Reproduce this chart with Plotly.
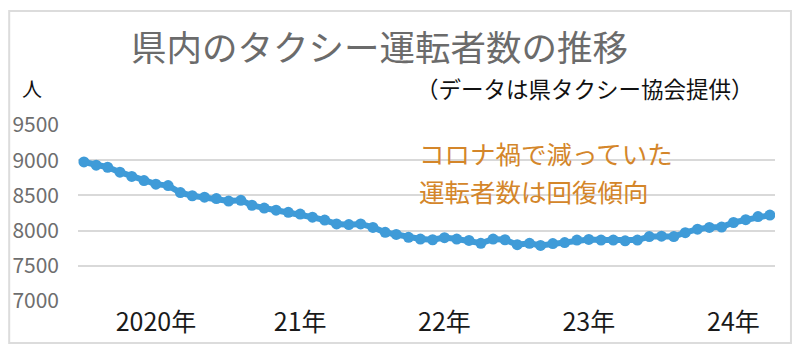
import plotly.graph_objects as go
import pandas as pd

# ---- data ----
months = pd.date_range("2020-01-01", "2024-10-01", freq="MS")
drivers = [8975, 8930, 8900, 8830, 8770, 8710, 8660, 8640, 8540, 8495,
           8475, 8455, 8420, 8430, 8360, 8320, 8290, 8260, 8235, 8190,
           8150, 8095, 8085, 8095, 8045, 7975, 7945, 7905, 7880, 7870,
           7900, 7880, 7860, 7820, 7880, 7870, 7800, 7820, 7790, 7815,
           7830, 7865, 7875, 7865, 7865, 7855, 7865, 7915, 7920, 7915,
           7970, 8020, 8045, 8050, 8115, 8155, 8200, 8220]
tick_dates = ["2020-07-01", "2021-07-01", "2022-07-01", "2023-07-01", "2024-07-01"]
tick_labels = ["2020年", "21年", "22年", "23年", "24年"]
y_ticks = [7000, 7500, 8000, 8500, 9000, 9500]

title_text = "県内のタクシー運転者数の推移"
source_text = "（データは県タクシー協会提供）"
unit_text = "人"
note_lines = ["コロナ禍で減っていた", "運転者数は回復傾向"]

# ---- layout geometry ----
W, H = 800, 350
L, R, T, B = 76, 25, 125, 49
PW, PH = W - L - R, H - T - B


def px(x):
    return (x - L) / PW


def py(y):
    return (H - B - y) / PH


CJK = "Noto Sans CJK JP, sans-serif"
NARROW = "Liberation Sans Narrow, Arial Narrow, Noto Sans CJK JP, sans-serif"

fig = go.Figure()
fig.add_trace(go.Scatter(
    x=months, y=drivers, mode="lines+markers",
    line=dict(color="#3f9bd8", width=6),
    marker=dict(color="#3f9bd8", size=11),
    hoverinfo="skip", showlegend=False,
))

fig.update_layout(
    width=W, height=H,
    margin=dict(l=L, r=R, t=T, b=B, pad=0),
    paper_bgcolor="white", plot_bgcolor="white",
    xaxis=dict(
        range=["2019-12-17", "2024-10-14"],
        tickmode="array", tickvals=tick_dates, ticktext=tick_labels,
        showgrid=False, zeroline=False, showline=False, ticks="",
        tickfont=dict(family=NARROW, size=25, color="#1a1a1a"),
        ticklabelstandoff=4,
    ),
    yaxis=dict(
        range=[7000, 9500],
        tickmode="array", tickvals=y_ticks,
        showgrid=True, gridcolor="#d9d9d9", gridwidth=2,
        zeroline=False, showline=False, ticks="",
        tickfont=dict(family=NARROW, size=21, color="#6e6e6e"),
        ticklabelstandoff=18,
    ),
    shapes=[dict(
        type="rect", xref="paper", yref="paper",
        x0=px(7), x1=px(791), y0=py(343), y1=py(11),
        line=dict(color="#dcdcdc", width=2), fillcolor="rgba(0,0,0,0)",
        layer="below",
    )],
    annotations=[
        dict(text=title_text, xref="paper", yref="paper", x=px(378), y=py(46),
             xanchor="center", yanchor="middle", showarrow=False,
             font=dict(family=CJK, size=35.5, color="#6b6b6b")),
        dict(text=source_text, xref="paper", yref="paper", x=px(584), y=py(88),
             xanchor="center", yanchor="middle", showarrow=False,
             font=dict(family=CJK, size=22.5, color="#111111")),
        dict(text=unit_text, xref="paper", yref="paper", x=px(30), y=py(88),
             xanchor="center", yanchor="middle", showarrow=False,
             font=dict(family=CJK, size=20, color="#111111")),
        dict(text=note_lines[0], xref="paper", yref="paper", x=px(416), y=py(152.5),
             xanchor="left", yanchor="middle", showarrow=False,
             font=dict(family=CJK, size=25.5, color="#d4862a")),
        dict(text=note_lines[1], xref="paper", yref="paper", x=px(416), y=py(190.5),
             xanchor="left", yanchor="middle", showarrow=False,
             font=dict(family=CJK, size=25.5, color="#d4862a")),
    ],
)

fig.write_html("out.html")
